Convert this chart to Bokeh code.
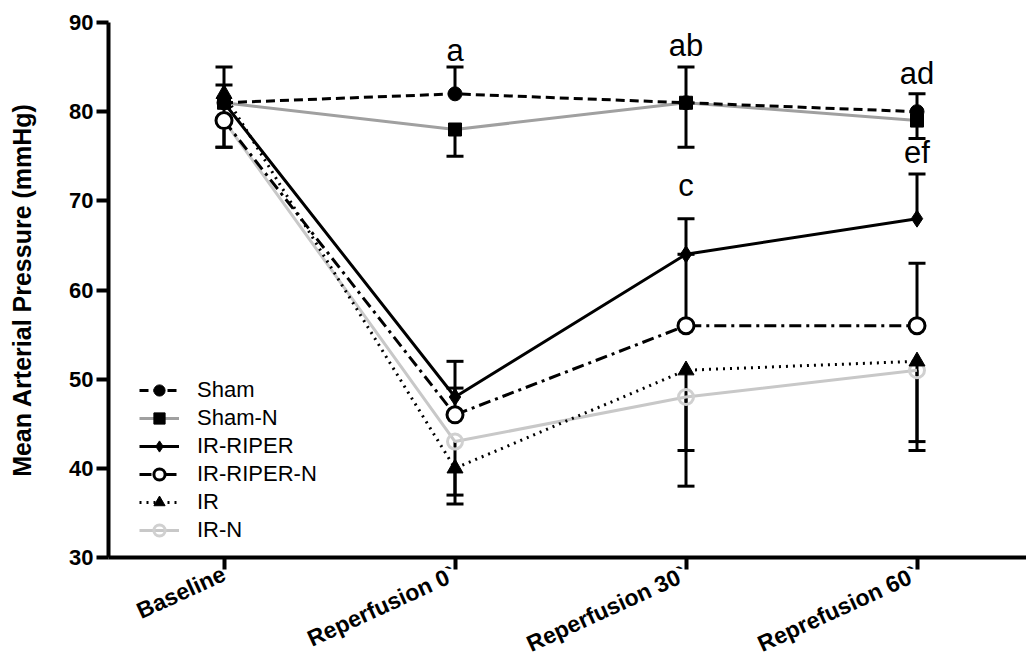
from bokeh.plotting import figure
from bokeh.models import Range1d, FixedTicker, Legend, LegendItem, ColumnDataSource
from bokeh.core.properties import value
from bokeh.embed import file_html
from bokeh.resources import INLINE

# ---- data ----
timepoints = ["Baseline", "Reperfusion 0`", "Reperfusion 30`", "Reprefusion 60`"]
xs = [0, 1, 2, 3]

sham = [81, 82, 81, 80]
sham_err = [4, 3, 4, 2]          # upward
sham_n = [81, 78, 81, 79]
sham_n_err = [5, 3, 5, 2]        # downward
ir_riper = [81, 48, 64, 68]
ir_riper_err = [2, 4, 4, 5]      # upward
ir_riper_n = [79, 46, 56, 56]
ir_riper_n_err = [0, 3, 8, 7]    # upward
ir = [82, 40, 51, 52]
ir_err = [0, 4, 13, 10]          # downward
ir_n = [79, 43, 48, 51]
ir_n_err = [3, 6, 6, 8]          # downward

annot_text = ["a", "ab", "c", "ad", "ef"]
annot_x = [1, 2, 2, 3, 3]
annot_y = [86.9, 87.4, 71.7, 84.3, 75.4]

yticks = [30, 40, 50, 60, 70, 80, 90]

FONT = "Liberation Sans"

p = figure(width=1026, height=671, output_backend="svg", toolbar_location=None,
           x_range=Range1d(-0.5, 3.474), y_range=Range1d(30, 90),
           min_border_left=108, min_border_right=0, min_border_top=22, min_border_bottom=114)
p.outline_line_color = None
p.xgrid.visible = False
p.ygrid.visible = False

# axes
for ax in (p.xaxis[0], p.yaxis[0]):
    ax.axis_line_width = 4
    ax.major_tick_line_width = 4
    ax.minor_tick_line_color = None
    ax.major_tick_in = 0
    ax.major_label_text_font = FONT
    ax.major_label_text_font_style = "bold"
    ax.major_label_text_color = "black"
    ax.axis_line_color = "black"
    ax.major_tick_line_color = "black"
    ax.axis_label_text_color = "black"

p.yaxis.ticker = FixedTicker(ticks=yticks)
p.yaxis.major_tick_out = 12
p.yaxis.major_label_text_font_size = "22px"
p.yaxis.major_label_standoff = 3
p.yaxis.axis_label = "Mean Arterial Pressure (mmHg)"
p.yaxis.axis_label_text_font = FONT
p.yaxis.axis_label_text_font_style = "bold"
p.yaxis.axis_label_text_font_size = "25px"
p.yaxis.axis_label_standoff = 30

p.xaxis.ticker = FixedTicker(ticks=xs)
p.xaxis.major_label_overrides = {x: t for x, t in zip(xs, timepoints)}
p.xaxis.major_tick_out = 12
p.xaxis.major_label_text_font_size = "23px"
p.xaxis.major_label_orientation = 0.43
p.xaxis.major_label_standoff = 3

LW = 3


def errbars(vals, errs, direction):
    x0, y0, y1 = [], [], []
    for x, v, e in zip(xs, vals, errs):
        if e > 0:
            x0.append(x)
            y0.append(v)
            y1.append(v + direction * e)
    src = ColumnDataSource(dict(x=x0, y0=y0, y1=y1))
    p.segment(x0="x", y0="y0", x1="x", y1="y1", source=src, line_color="black", line_width=LW)
    p.scatter(x="x", y="y1", source=src, marker="dash", size=17, line_color="black", line_width=LW)


errbars(sham, sham_err, 1)
errbars(sham_n, sham_n_err, -1)
errbars(ir_riper, ir_riper_err, 1)
errbars(ir_riper_n, ir_riper_n_err, 1)
errbars(ir, ir_err, -1)
errbars(ir_n, ir_n_err, -1)

# IR-N
l6 = p.line(xs, ir_n, line_color="#c8c8c8", line_width=LW)
m6 = p.scatter(xs, ir_n, marker="circle", size=15, fill_color="white", fill_alpha=0.0,
               line_color="#d0d0d0", line_width=3)
# IR
l5 = p.line(xs, ir, line_color="black", line_width=LW, line_dash="2 5")
m5 = p.scatter(xs, ir, marker="triangle", size=16, fill_color="black", line_color="black")
# IR-RIPER-N
l4 = p.line(xs, ir_riper_n, line_color="black", line_width=LW, line_dash="12 5 3 5")
m4 = p.scatter(xs, ir_riper_n, marker="circle", size=16, fill_color="white",
               line_color="black", line_width=3)
# IR-RIPER
l3 = p.line(xs, ir_riper, line_color="black", line_width=LW)
m3 = p.scatter(xs, ir_riper, marker="diamond", size=17, fill_color="black", line_color="black")
# Sham-N
l2 = p.line(xs, sham_n, line_color="#a0a0a0", line_width=LW)
m2 = p.scatter(xs, sham_n, marker="square", size=13, fill_color="black", line_color="black")
# Sham
l1 = p.line(xs, sham, line_color="black", line_width=LW, line_dash="9 5")
m1 = p.scatter(xs, sham, marker="circle", size=14, fill_color="black", line_color="black")

legend = Legend(items=[
    LegendItem(label="Sham", renderers=[l1, m1]),
    LegendItem(label="Sham-N", renderers=[l2, m2]),
    LegendItem(label="IR-RIPER", renderers=[l3, m3]),
    LegendItem(label="IR-RIPER-N", renderers=[l4, m4]),
    LegendItem(label="IR", renderers=[l5, m5]),
    LegendItem(label="IR-N", renderers=[l6, m6]),
], location=(31, 13))
legend.border_line_color = None
legend.background_fill_alpha = 0
legend.padding = 0
legend.margin = 0
legend.spacing = 0
legend.glyph_width = 40
legend.glyph_height = 28
legend.label_height = 28
legend.label_standoff = 18
legend.label_text_font = FONT
legend.label_text_font_size = "22px"
legend.label_text_color = "black"
legend.label_text_baseline = "middle"
p.add_layout(legend, "center")

p.text(x=annot_x, y=annot_y, text=annot_text, text_font=value(FONT), text_font_size="31px",
       text_align="center", text_baseline="alphabetic", text_color="black")

open("out.html", "w").write(file_html(p, INLINE))
